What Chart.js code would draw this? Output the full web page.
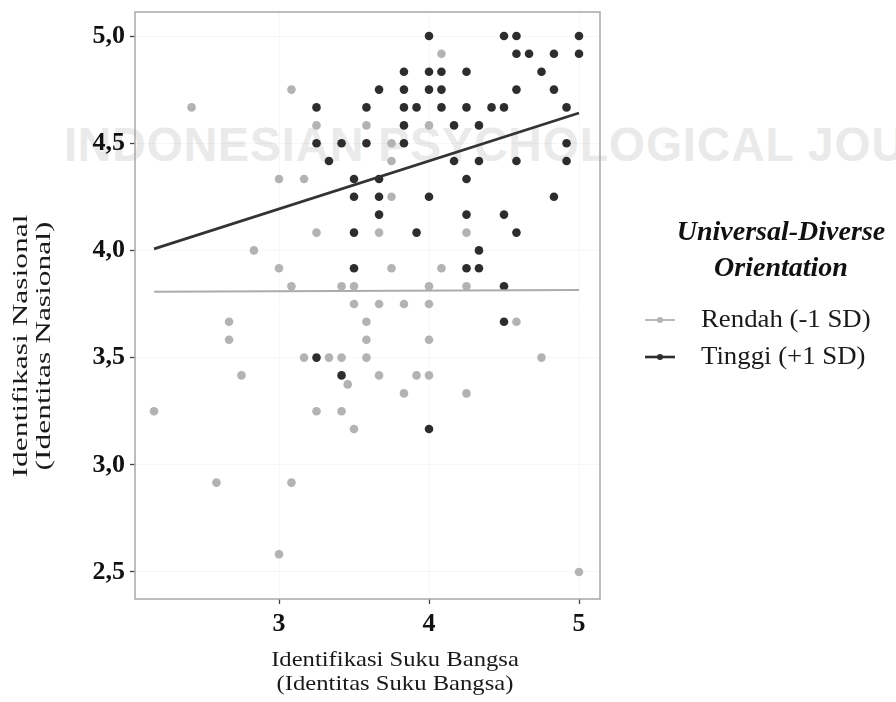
<!DOCTYPE html>
<html>
<head>
<meta charset="utf-8">
<script src="https://cdn.jsdelivr.net/npm/chart.js@4/dist/chart.umd.min.js"></script>
<style>
  html, body { margin: 0; padding: 0; background: #fff; }
  #wrap { position: relative; width: 896px; height: 702px; overflow: hidden; }
  #watermark {
    position: absolute; left: 64px; top: 117px;
    font: bold 48px "Liberation Sans", sans-serif;
    color: #eaeaea; white-space: nowrap; letter-spacing: 1px;
    transform: scaleX(0.965); transform-origin: left top;
  }
  canvas { position: absolute; left: 0; top: 0; }
</style>
</head>
<body>
<div id="wrap">
  <div id="watermark">INDONESIAN PSYCHOLOGICAL JOURNAL</div>
  <canvas id="chart" width="896" height="702"></canvas>
</div>
<script>
// Data (skala Likert rata-rata)
const rendahX = [3.083, 2.417, 3.25, 3.583, 3.0, 3.167, 4.083, 4.0, 3.75, 3.75, 3.75, 3.667, 4.25,
  3.75, 4.083, 4.0, 4.25, 3.667, 3.833, 4.0, 3.583, 4.583, 3.583, 4.0, 3.583, 4.75, 3.667, 3.917,
  4.0, 3.833, 4.25, 3.25, 2.833, 3.0, 3.083, 3.417, 3.5, 3.5, 2.667, 2.667, 3.167, 3.333, 3.417,
  2.75, 3.458, 2.167, 3.25, 3.417, 3.5, 2.583, 3.083, 3.0, 5.0];
const rendahY = [4.75, 4.667, 4.583, 4.583, 4.333, 4.333, 4.917, 4.583, 4.5, 4.417, 4.25, 4.083, 4.083,
  3.917, 3.917, 3.833, 3.833, 3.75, 3.75, 3.75, 3.667, 3.667, 3.583, 3.583, 3.5, 3.5, 3.417, 3.417,
  3.417, 3.333, 3.333, 4.083, 4.0, 3.917, 3.833, 3.833, 3.833, 3.75, 3.667, 3.583, 3.5, 3.5, 3.5,
  3.417, 3.375, 3.25, 3.25, 3.25, 3.167, 2.917, 2.917, 2.583, 2.5];

const tinggiX = [3.25, 3.583, 3.25, 3.417, 3.583, 3.333, 3.5, 3.5, 4.0, 4.5, 4.583, 5.0, 4.583, 4.667,
  4.833, 5.0, 3.833, 4.0, 4.083, 4.25, 4.75, 3.667, 3.833, 4.0, 4.083, 4.583, 4.833, 3.833, 3.917,
  4.083, 4.25, 4.417, 4.5, 4.917, 3.833, 4.167, 4.333, 3.833, 4.917, 4.167, 4.333, 4.583, 4.917,
  4.25, 3.667, 4.0, 4.833, 3.667, 4.25, 4.5, 3.917, 4.583, 4.333, 4.25, 4.333, 4.5, 4.5, 3.5, 3.5,
  3.25, 3.417, 4.0, 3.667];
const tinggiY = [4.667, 4.667, 4.5, 4.5, 4.5, 4.417, 4.333, 4.25, 5.0, 5.0, 5.0, 5.0, 4.917, 4.917,
  4.917, 4.917, 4.833, 4.833, 4.833, 4.833, 4.833, 4.75, 4.75, 4.75, 4.75, 4.75, 4.75, 4.667, 4.667,
  4.667, 4.667, 4.667, 4.667, 4.667, 4.583, 4.583, 4.583, 4.5, 4.5, 4.417, 4.417, 4.417, 4.417,
  4.333, 4.25, 4.25, 4.25, 4.167, 4.167, 4.167, 4.083, 4.083, 4.0, 3.917, 3.917, 3.833, 3.667, 4.083,
  3.917, 3.5, 3.417, 3.167, 4.333];

// Garis regresi (ujung-ujung)
const rendahFitX = [2.167, 5.0];
const rendahFitY = [3.807, 3.815];
const tinggiFitX = [2.167, 5.0];
const tinggiFitY = [4.007, 4.641];

const xTicks = [3, 4, 5];
const yTicks = [2.5, 3.0, 3.5, 4.0, 4.5, 5.0];

const xTitle = ['Identifikasi Suku Bangsa', '(Identitas Suku Bangsa)'];
const yTitle = ['Identifikasi Nasional', '(Identitas Nasional)'];
const legendTitle = ['Universal-Diverse', 'Orientation'];
const groupLabels = ['Rendah (-1 SD)', 'Tinggi (+1 SD)'];

const LIGHT = '#b3b3b3';
const DARK = '#2d2d2d';

const toPoints = (xs, ys) => xs.map((x, i) => ({ x: x, y: ys[i] }));

const extrasPlugin = {
    id: 'extras',
    beforeDatasetsDraw(chart) {
        const { ctx, chartArea: a } = chart;
        ctx.save();
        ctx.strokeStyle = '#a8a8a8';
        ctx.lineWidth = 1.5;
        ctx.strokeRect(a.left, a.top, a.right - a.left, a.bottom - a.top);
        ctx.restore();
    },
    afterDraw(chart) {
        const ctx = chart.ctx;
        ctx.save();
        ctx.fillStyle = '#1a1a1a';
        ctx.textAlign = 'center';
        ctx.textBaseline = 'middle';

        // Judul sumbu X (agak melebar seperti aslinya)
        ctx.font = '22px "Liberation Serif"';
        xTitle.forEach((t, i) => {
            ctx.save();
            ctx.translate(395, 660 + i * 24);
            ctx.scale(1.12, 1);
            ctx.fillText(t, 0, 0);
            ctx.restore();
        });

        // Judul sumbu Y (diputar, memanjang)
        yTitle.forEach((t, i) => {
            ctx.save();
            ctx.translate(21 + i * 23, 346);
            ctx.rotate(-Math.PI / 2);
            ctx.scale(1.43, 1);
            ctx.fillText(t, 0, 0);
            ctx.restore();
        });

        // Legenda
        ctx.font = 'italic bold 28px "Liberation Serif"';
        ctx.fillStyle = '#111';
        legendTitle.forEach((t, i) => ctx.fillText(t, 781, 233 + i * 36));

        ctx.textAlign = 'left';
        ctx.font = '26px "Liberation Serif"';
        const cols = [LIGHT, DARK];
        groupLabels.forEach((t, i) => {
            const y = 320 + i * 37;
            ctx.strokeStyle = cols[i];
            ctx.lineWidth = i ? 2.6 : 1.8;
            ctx.beginPath();
            ctx.moveTo(645, y);
            ctx.lineTo(675, y);
            ctx.stroke();
            ctx.fillStyle = cols[i];
            ctx.beginPath();
            ctx.arc(660, y, 3, 0, Math.PI * 2);
            ctx.fill();
            ctx.fillStyle = '#1a1a1a';
            ctx.save();
            ctx.translate(701, y);
            ctx.scale(1.03, 1);
            ctx.fillText(t, 0, 0);
            ctx.restore();
        });
        ctx.restore();
    }
};

const tickFont = { family: 'Liberation Serif', size: 26, weight: 'bold' };

new Chart(document.getElementById('chart'), {
    type: 'scatter',
    data: {
        datasets: [
            {
                label: 'Tinggi fit', data: toPoints(tinggiFitX, tinggiFitY), showLine: true,
                borderColor: '#333', borderWidth: 2.8, pointRadius: 0, order: 0
            },
            {
                label: 'Rendah fit', data: toPoints(rendahFitX, rendahFitY), showLine: true,
                borderColor: '#ababab', borderWidth: 2, pointRadius: 0, order: 1
            },
            {
                label: groupLabels[1], data: toPoints(tinggiX, tinggiY),
                backgroundColor: DARK, borderColor: DARK, borderWidth: 0, pointRadius: 4.3, order: 2
            },
            {
                label: groupLabels[0], data: toPoints(rendahX, rendahY),
                backgroundColor: LIGHT, borderColor: LIGHT, borderWidth: 0, pointRadius: 4.3, order: 3
            }
        ]
    },
    options: {
        responsive: false,
        animation: false,
        layout: { padding: { top: 12, right: 296, left: 0, bottom: 0 } },
        plugins: { legend: { display: false }, tooltip: { enabled: false } },
        scales: {
            x: {
                type: 'linear', min: 2.04, max: 5.14,
                afterBuildTicks: s => { s.ticks = xTicks.map(v => ({ value: v })); },
                afterFit: s => { s.height = 103; s.paddingLeft = 0; s.paddingRight = 0; },
                border: { display: false },
                grid: { color: 'rgba(0,0,0,0.03)', tickColor: '#444', tickLength: 5, tickWidth: 1.3 },
                ticks: { font: tickFont, color: '#111', padding: 5, callback: v => String(v) }
            },
            y: {
                type: 'linear', min: 2.374, max: 5.112,
                afterBuildTicks: s => { s.ticks = yTicks.map(v => ({ value: v })); },
                afterFit: s => { s.width = 135; s.paddingTop = 0; s.paddingBottom = 0; },
                border: { display: false },
                grid: { color: 'rgba(0,0,0,0.03)', tickColor: '#444', tickLength: 5, tickWidth: 1.3 },
                ticks: { font: tickFont, color: '#111', padding: 5, callback: v => v.toFixed(1).replace('.', ',') }
            }
        }
    },
    plugins: [extrasPlugin]
});
</script>
</body>
</html>
